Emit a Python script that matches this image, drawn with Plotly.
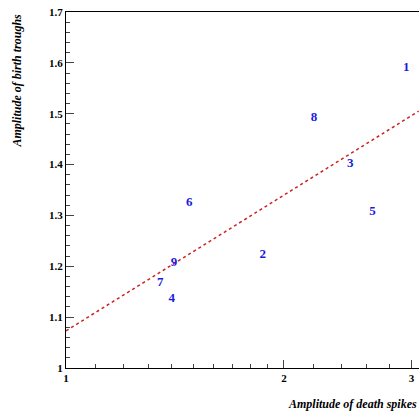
import plotly.graph_objects as go

labels = ["1", "2", "3", "4", "5", "6", "7", "8", "9"]
death_amp = [2.95, 1.87, 2.47, 1.40, 2.65, 1.48, 1.35, 2.20, 1.41]
birth_amp = [1.59, 1.222, 1.401, 1.136, 1.308, 1.324, 1.167, 1.492, 1.206]
fit_x = [1.0, 3.07]
fit_y = [1.073, 1.505]

serif = "Liberation Serif, Times New Roman, serif"

fig = go.Figure()
fig.add_trace(go.Scatter(x=fit_x, y=fit_y, mode="lines",
                         line=dict(color="#cc2222", width=1.5, dash="dot"), showlegend=False))
fig.add_trace(go.Scatter(x=death_amp, y=birth_amp, mode="text", text=["<b>%s</b>" % s for s in labels],
                         textfont=dict(family=serif, size=13, color="#1a1adf"),
                         showlegend=False))

fig.update_xaxes(type="log", range=[0, 0.4876], tickvals=[1, 2, 3], ticktext=["<b>1</b>", "<b>2</b>", "<b>3</b>"],
                 ticks="inside", ticklen=8, showline=True, linecolor="black", mirror=True,
                 showgrid=False, zeroline=False,
                 minor=dict(ticks="inside", ticklen=4, tickvals=[1.1, 1.2, 1.3, 1.4, 1.5, 1.6, 1.7, 1.8, 1.9, 2.2, 2.4, 2.6, 2.8]))
fig.update_yaxes(range=[1.0, 1.7], ticks="inside", ticklen=8,
                 tickvals=[1.0, 1.1, 1.2, 1.3, 1.4, 1.5, 1.6, 1.7],
                 ticktext=["<b>1</b>", "<b>1.1</b>", "<b>1.2</b>", "<b>1.3</b>", "<b>1.4</b>", "<b>1.5</b>", "<b>1.6</b>", "<b>1.7</b>"],
                 showline=True, linecolor="black", showgrid=False, zeroline=False,
                 minor=dict(ticks="inside", ticklen=4, dtick=0.02))

fig.add_annotation(text="<b><i>Amplitude of death spikes</i></b>", xref="paper", yref="paper",
                   x=1, y=-0.075, xanchor="right", yanchor="top", showarrow=False,
                   font=dict(family=serif, size=12, color="black"))
fig.add_annotation(text="<b><i>Amplitude of birth troughs</i></b>", xref="paper", yref="paper",
                   x=-0.14, y=1, xanchor="center", yanchor="top", textangle=-90, showarrow=False,
                   font=dict(family=serif, size=12, color="black"))

fig.update_layout(width=419, height=419, margin=dict(l=66, r=0, t=12, b=51),
                  plot_bgcolor="white", paper_bgcolor="white",
                  font=dict(family=serif, size=11, color="black"))
fig.write_html("out.html", config={"displayModeBar": False},
               post_script="document.body.style.margin='0';document.body.style.overflow='hidden';")
